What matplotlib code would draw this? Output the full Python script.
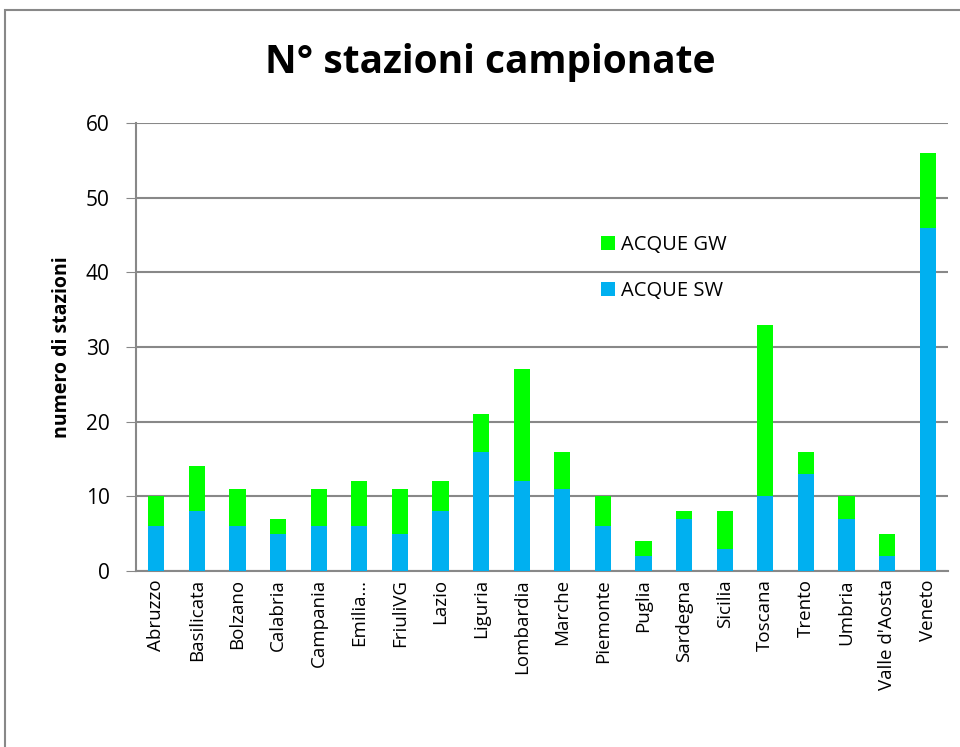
import matplotlib
matplotlib.use('Agg')
import matplotlib.pyplot as plt
from matplotlib.patches import Rectangle
import numpy as np

# dati: stazioni campionate per regione
regioni = ['Abruzzo', 'Basilicata', 'Bolzano', 'Calabria', 'Campania', 'Emilia…',
           'FriuliVG', 'Lazio', 'Liguria', 'Lombardia', 'Marche', 'Piemonte',
           'Puglia', 'Sardegna', 'Sicilia', 'Toscana', 'Trento', 'Umbria',
           "Valle d'Aosta", 'Veneto']
acque_sw = [6, 8, 6, 5, 6, 6, 5, 8, 16, 12, 11, 6, 2, 7, 3, 10, 13, 7, 2, 46]
acque_gw = [4, 6, 5, 2, 5, 6, 6, 4, 5, 15, 5, 4, 2, 1, 5, 23, 3, 3, 3, 10]
y_ticks = [0, 10, 20, 30, 40, 50, 60]

plt.rcParams['font.family'] = ['Open Sans', 'DejaVu Sans']

fig = plt.figure(figsize=(9.6, 7.47), dpi=100)
ax = fig.add_axes([136 / 960, 1 - 571 / 747, 812 / 960, 448 / 747])

x = np.arange(len(regioni))
ax.bar(x, acque_sw, width=0.4, color='#00b0f0', label='ACQUE SW', zorder=3)
ax.bar(x, acque_gw, width=0.4, bottom=acque_sw, color='#00ff00', label='ACQUE GW', zorder=3)

ax.set_xlim(-0.5, len(regioni) - 0.5)
ax.set_ylim(0, 60)
ax.set_yticks(y_ticks)
ax.tick_params(axis='y', labelsize=15, length=7, color='#888888', pad=12)
ax.tick_params(axis='x', labelsize=13.5, length=0, pad=6)
ax.set_xticks(x)
ax.set_xticklabels(regioni, rotation=90)
ax.grid(axis='y', color='#888888', linewidth=1.5, zorder=0)
for s in ['top', 'right']:
    ax.spines[s].set_visible(False)
for s in ['left', 'bottom']:
    ax.spines[s].set_color('#888888')
    ax.spines[s].set_linewidth(1.5)

ax.set_ylabel('numero di stazioni', fontsize=14, fontweight='bold', labelpad=10)

handles, labels = ax.get_legend_handles_labels()
ax.legend(handles[::-1], labels[::-1], loc='upper left', bbox_to_anchor=(0.55, 0.79),
          frameon=False, fontsize=14.5, handlelength=0.7, handleheight=0.7,
          labelspacing=1.3, handletextpad=0.3)

fig.text(490 / 960, 1 - 63 / 747, 'N° stazioni campionate', ha='center', va='center',
         fontsize=28, fontweight='bold')

# cornice esterna del grafico
fig.patches.append(Rectangle((5 / 960, -0.1), 1.1, 1 - 10 / 747 + 0.1,
                             transform=fig.transFigure, fill=False,
                             edgecolor='#888888', linewidth=1.5))

fig.savefig('out.png', dpi=100)
